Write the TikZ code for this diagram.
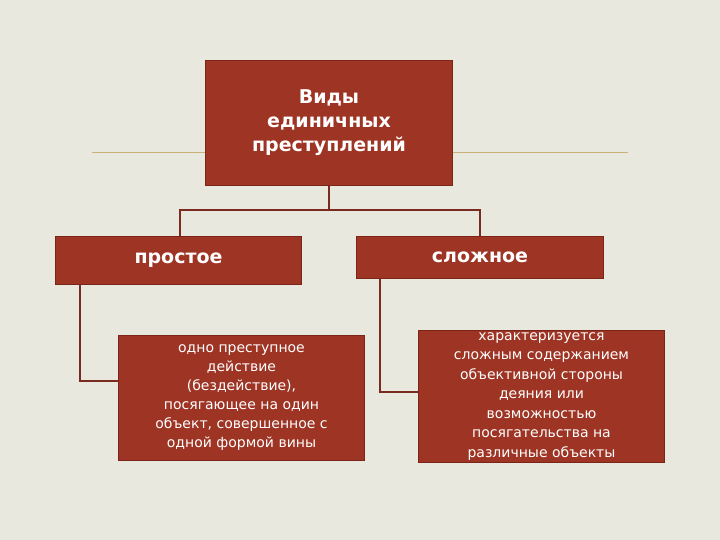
\documentclass[tikz,border=0pt]{standalone}
\usepackage{fontspec}
\setmainfont{DejaVu Sans}
\definecolor{bg}{HTML}{E8E8DE}
\definecolor{boxred}{HTML}{9E3424}
\definecolor{boxedge}{HTML}{7A2518}
\definecolor{gold}{HTML}{C9B27A}
\definecolor{conn}{HTML}{7A2A1E}
\begin{document}
\begin{tikzpicture}[x=1pt,y=-1pt,
  rbox/.style={fill=boxred,draw=boxedge,line width=1pt,text=white,align=center,inner sep=0pt,anchor=north west},
  link/.style={conn,line width=2.5pt}]
\fill[bg] (0,0) rectangle (720,540);
\useasboundingbox (0,0) rectangle (720,540);
\draw[gold,line width=0.8pt] (92,152) -- (628,152);
\node[rbox,minimum width=247pt,minimum height=125pt,font=\bfseries\fontsize{19}{24}\selectfont] (top) at (205,60) {Виды\\единичных\\преступлений};
\node[rbox,minimum width=246pt,minimum height=48pt,font=\bfseries\fontsize{19}{24}\selectfont] (simple) at (55,236) {простое};
\node[rbox,minimum width=247pt,minimum height=42pt,font=\bfseries\fontsize{19}{24}\selectfont] (complex) at (356,236) {сложное};
\node[rbox,minimum width=246pt,minimum height=125pt,font=\fontsize{14}{19}\selectfont] (sd) at (118,335) {одно преступное\\действие\\(бездействие),\\посягающее на один\\объект, совершенное с\\одной формой вины};
\node[rbox,minimum width=246pt,minimum height=132pt,font=\fontsize{14}{19.5}\selectfont] (cd) at (418,330) {характеризуется\\сложным содержанием\\объективной стороны\\деяния или\\возможностью\\посягательства на\\различные объекты};
\coordinate (j) at (329,210);
\draw[link] (top.south) -- (j);
\draw[link] (180,236) |- (j) -| (480,236);
\draw[link] (80,284) |- (sd.west |- 0,381);
\draw[link] (380,278) |- (cd.west |- 0,392);
\end{tikzpicture}
\end{document}
